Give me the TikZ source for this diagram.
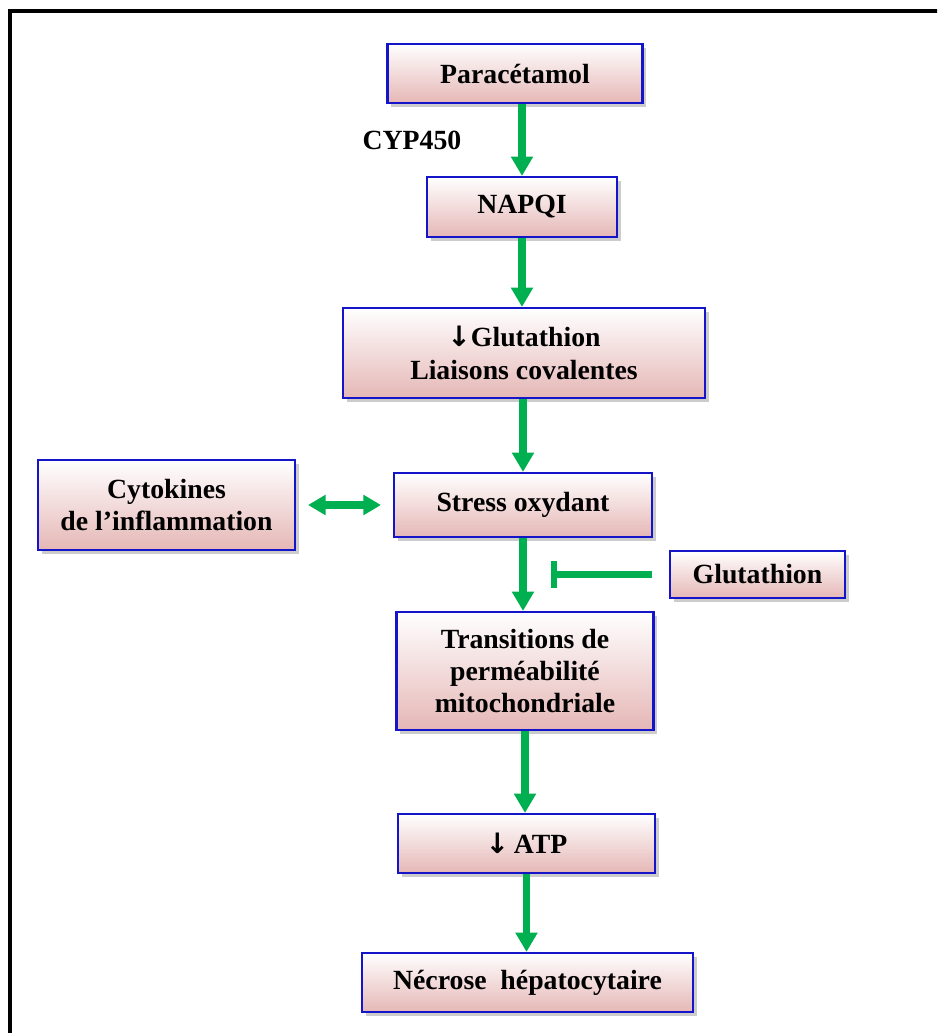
\documentclass[tikz,border=0pt]{standalone}
\usepackage{fontspec}
\setmainfont{Liberation Serif}
\newfontfamily\arrfont{DejaVu Sans}
\usetikzlibrary{positioning,calc}
\usetikzlibrary{arrows.meta,shadows}
\definecolor{FlowGreen}{RGB}{0,176,80}
\definecolor{BoxBlue}{RGB}{20,20,200}
\definecolor{BoxPink}{RGB}{229,183,182}
\newcommand\dnarr{{\arrfont\bfseries\fontsize{16}{16}\selectfont ↓}}
\tikzset{
  box/.style={draw=BoxBlue,line width=1.2pt,top color=white,bottom color=BoxPink,
    drop shadow={shadow xshift=2.2pt,shadow yshift=-2.2pt,opacity=0.4},
    align=center,inner sep=2pt,font=\fontsize{15.8}{18.4}\selectfont\bfseries},
  lbl/.style={font=\fontsize{15.8}{18.4}\selectfont\bfseries},
  flow/.style={draw=FlowGreen,line width=4pt,-{Triangle[width=12pt,length=11pt]}},
  twoway/.style={draw=FlowGreen,line width=4pt,
    {Triangle[width=11pt,length=10pt]}-{Triangle[width=11pt,length=10pt]},
    shorten <=0.24cm,shorten >=0.24cm},
  inhib/.style={draw=FlowGreen,line width=3.5pt,-{Bar[width=15pt]}},
}

\begin{document}
\begin{tikzpicture}[x=0.02cm,y=-0.02cm]
\useasboundingbox (0,0) rectangle (937,1033);
\begin{scope}
\clip (0,0) rectangle (937,1033);
\draw[line width=2.3pt] (10,1050) -- (10,11.3) -- (950,11.3);
\end{scope}
\node[box,minimum width=5.1cm,minimum height=1.18cm] (para) at (515,73.5) {Paracétamol};
\node[lbl] (cyp) at (412,140) {CYP450};
\node[box,minimum width=3.8cm,minimum height=1.2cm] (napqi) at (522,207) {NAPQI};
\node[box,minimum width=7.24cm,minimum height=1.8cm] (gsh) at (524,353) {\dnarr Glutathion\\Liaisons covalentes};
\node[box,minimum width=5.14cm,minimum height=1.8cm] (cyto) at (166.5,505) {Cytokines\\de l’inflammation};
\node[box,minimum width=5.16cm,minimum height=1.28cm] (stress) at (523,505) {Stress oxydant};
\node[box,minimum width=3.5cm,minimum height=0.95cm] (gshr) at (757.5,574.5) {Glutathion};
\node[box,minimum width=5.14cm,minimum height=2.36cm] (mpt) at (525,671) {Transitions de\\perméabilité\\mitochondriale};
\node[box,minimum width=5.14cm,minimum height=1.18cm] (atp) at (526.5,843.5) {\dnarr\,ATP};
\node[box,minimum width=6.62cm,minimum height=1.18cm] (necrose) at (527.5,982.5) {Nécrose~~hépatocytaire};
\coordinate (block) at (551,574.5);
\draw[flow] (para.south -| napqi) -- (napqi.north);
\draw[flow] (napqi.south) -- (napqi.south |- gsh.north);
\draw[flow] (gsh.south -| stress) -- (stress.north);
\draw[flow] (stress.south) -- (stress.south |- mpt.north);
\draw[flow] (mpt.south) -- (mpt.south |- atp.north);
\draw[flow] (atp.south) -- (atp.south |- necrose.north);
\draw[twoway] (cyto.east |- stress) -- (stress.west);
\draw[inhib,shorten <=0.34cm] (gshr.west) -- (block);
\end{tikzpicture}
\end{document}
